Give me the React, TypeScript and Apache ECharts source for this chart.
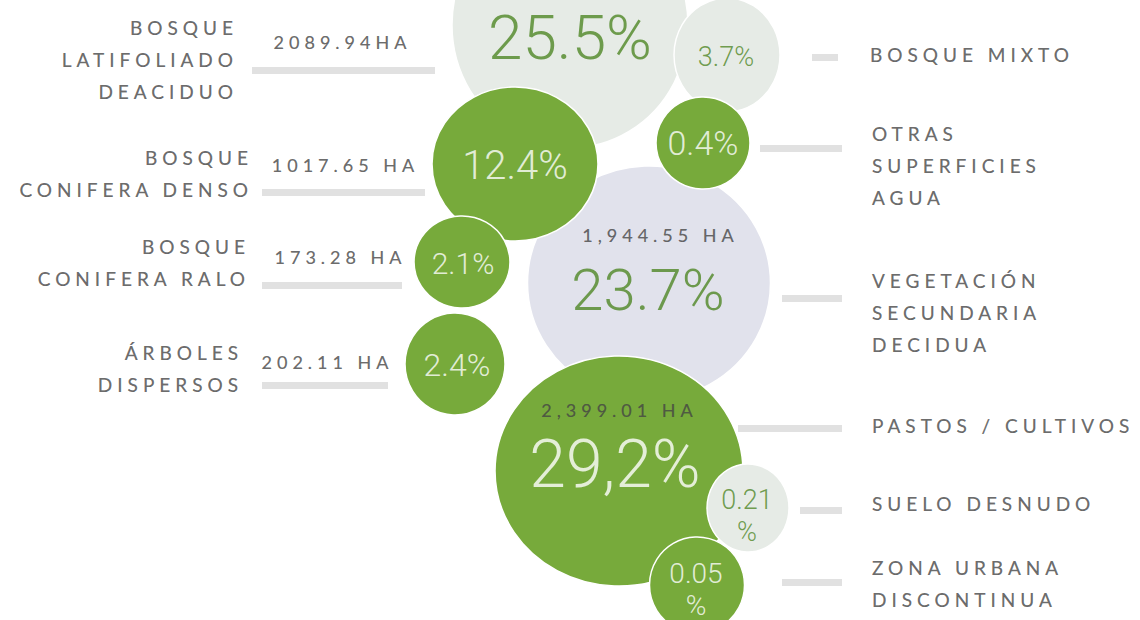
import React, { useEffect, useRef } from "react";
import * as echarts from "echarts";

// ---- data ----
const categories = [
  "BOSQUE\nLATIFOLIADO\nDEACIDUO",
  "BOSQUE MIXTO",
  "BOSQUE\nCONIFERA DENSO",
  "OTRAS\nSUPERFICIES\nAGUA",
  "BOSQUE\nCONIFERA RALO",
  "VEGETACIÓN\nSECUNDARIA\nDECIDUA",
  "ÁRBOLES\nDISPERSOS",
  "PASTOS / CULTIVOS",
  "SUELO DESNUDO",
  "ZONA URBANA\nDISCONTINUA",
];
const percentValues = [25.5, 3.7, 12.4, 0.4, 2.1, 23.7, 2.4, 29.2, 0.21, 0.05];
const percentLabels = ["25.5%", "3.7%", "12.4%", "0.4%", "2.1%", "23.7%", "2.4%", "29,2%", "0.21\n%", "0.05\n%"];
const hectareLabels = ["2089.94HA", "", "1017.65 HA", "", "173.28 HA", "1,944.55 HA", "202.11 HA", "2,399.01 HA", "", ""];

// ---- layout (positions / sizes, kept apart from the data) ----
const bubbleX = [570, 727, 515, 703, 462, 649, 455, 619, 748, 697];
const bubbleY = [25, 55, 164, 143, 262, 283, 364, 471, 508, 585];
const bubbleW = [236, 106, 166, 94, 96, 243, 100, 248, 82, 95];
const bubbleH = [246, 114, 154, 92, 92, 234, 102, 230, 88, 96];
const bubbleKind = ["pale", "pale", "green", "green", "green", "lavender", "green", "green", "pale", "green"];
const drawOrder = [0, 1, 5, 2, 3, 4, 6, 7, 9, 8];

const pctX = [570, 726, 515, 703, 463, 648, 457, 615, 747, 696];
const pctY = [37, 57, 165, 143, 263, 290, 365, 464, 516, 589];
const pctSize = [62, 27, 40, 34, 30, 58, 32, 66, 27, 28];

const catX = [233, 870, 248, 872, 245, 872, 238, 872, 872, 872];
const catY = [59, 54, 173, 165, 262, 312, 368, 425, 503, 583];
const catSide = ["left", "right", "left", "right", "left", "right", "left", "right", "right", "right"];

const haX = [340, 0, 343, 0, 338, 658, 325, 617, 0, 0];
const haY = [42, 0, 165, 0, 257, 235, 362, 410, 0, 0];

const barFrom = [252, 812, 262, 760, 262, 782, 262, 738, 800, 782];
const barTo = [435, 838, 425, 842, 402, 842, 388, 842, 842, 842];
const barY = [70, 57, 192, 148, 285, 298, 385, 428, 510, 582];

const GREEN = "#77aa3b";
const DARK_GREEN = "#4f8726";
const PALE = "#e6ebe6";
const LAVENDER = "#e1e2ec";
const TEXT = "#444444";
const SPACING = 5;

export default function App() {
  const ref = useRef<HTMLDivElement>(null);

  useEffect(() => {
    if (!ref.current) return;
    const chart = echarts.init(ref.current, undefined, { renderer: "svg" });

    const fillOf = (k: string) => (k === "green" ? GREEN : k === "pale" ? PALE : LAVENDER);

    const bubbles = drawOrder.map((i) => ({
      name: categories[i].replace(/\n/g, " "),
      value: [bubbleX[i], bubbleY[i], percentValues[i]],
      symbolSize: [bubbleW[i], bubbleH[i]],
      itemStyle: { color: fillOf(bubbleKind[i]) },
    }));

    const pctData = percentLabels.map((t, i) => ({
      value: [pctX[i], pctY[i]],
      label: {
        formatter: t,
        fontSize: pctSize[i],
        lineHeight: t.indexOf("\n") >= 0 ? 32 : Math.round(pctSize[i] * 1.1),
        color: bubbleKind[i] === "green" ? "#ffffff" : DARK_GREEN,
      },
    }));

    const catData = categories.map((t, i) => ({
      value: [catSide[i] === "left" ? catX[i] + SPACING : catX[i], catY[i]],
      label: { formatter: t, align: catSide[i] === "left" ? "right" : "left" },
    }));

    const haData = hectareLabels
      .map((t, i) => ({ t, i }))
      .filter((d) => d.t !== "")
      .map(({ t, i }) => ({ value: [haX[i] + SPACING / 2, haY[i]], label: { formatter: t } }));

    const barData = barY.map((y, i) => ({ coords: [[barFrom[i], y], [barTo[i], y]] }));

    chart.setOption({
      animation: false,
      backgroundColor: "#ffffff",
      grid: { left: 0, right: 0, top: 0, bottom: 0 },
      xAxis: { type: "value", min: 0, max: 1140, show: false },
      yAxis: { type: "value", min: 0, max: 620, inverse: true, show: false },
      series: [
        {
          type: "lines",
          coordinateSystem: "cartesian2d",
          silent: true,
          lineStyle: { color: "#e1e1e1", width: 7, opacity: 1, curveness: 0 },
          data: barData,
          z: 1,
        },
        {
          type: "scatter",
          silent: true,
          symbol: "circle",
          itemStyle: { opacity: 1, borderColor: "#ffffff", borderWidth: 1.5 },
          data: bubbles,
          z: 2,
        },
        {
          type: "scatter",
          silent: true,
          symbolSize: 0,
          label: {
            show: true,
            position: "inside",
            fontFamily: "Roboto",
            fontWeight: 300,
          },
          data: pctData,
          z: 3,
        },
        {
          type: "scatter",
          silent: true,
          symbolSize: 0,
          label: {
            show: true,
            position: "inside",
            fontFamily: "Lato",
            fontSize: 19,
            lineHeight: 32,
            color: TEXT,
            textBorderColor: TEXT,
            textBorderWidth: 0.2,
          },
          data: catData,
          z: 3,
        },
        {
          type: "scatter",
          silent: true,
          symbolSize: 0,
          label: {
            show: true,
            position: "inside",
            fontFamily: "Lato",
            fontSize: 18,
            color: TEXT,
            textBorderColor: TEXT,
            textBorderWidth: 0.2,
          },
          data: haData,
          z: 3,
        },
      ],
    });

    const applySpacing = () => {
      if (!ref.current) return;
      ref.current.querySelectorAll("text").forEach((el) => {
        const s = el.textContent || "";
        if (/[A-ZÁÉÍÓÚ]/.test(s)) {
          (el as SVGTextElement).style.letterSpacing = SPACING + "px";
        }
      });
    };
    applySpacing();
    chart.on("finished", applySpacing);
    const timer = setTimeout(applySpacing, 50);

    return () => {
      clearTimeout(timer);
      chart.dispose();
    };
  }, []);

  return (
    <div
      ref={ref}
      style={{ position: "fixed", left: 0, top: 0, width: 1140, height: 620, background: "#fff" }}
    />
  );
}
